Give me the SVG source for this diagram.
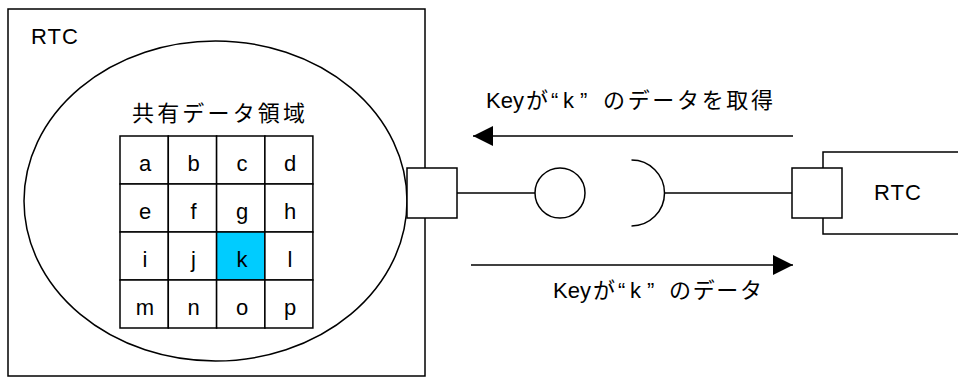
<svg xmlns="http://www.w3.org/2000/svg" width="958" height="377" viewBox="0 0 958 377">
  <style>
    .ln { fill: none; stroke: #000; stroke-width: 1.5; }
    .box { fill: #fff; stroke: #000; stroke-width: 1.5; }
    .cell { fill: #fff; stroke: #000; stroke-width: 1.5; }
    .hit { fill: #00CCFF; stroke: #000; stroke-width: 1.5; }
    .t { font-family: "Liberation Sans", "Noto Sans CJK JP", sans-serif; font-size: 22px; fill: #000; }
    .c { text-anchor: middle; }
  </style>
  <defs>
    <marker id="arrow" viewBox="0 0 20 20" refX="20" refY="10" markerWidth="20" markerHeight="20" markerUnits="userSpaceOnUse" orient="auto">
      <path d="M0,0 L20,10 L0,20 Z" fill="#000"/>
    </marker>
  </defs>

  <!-- provider component with shared data area -->
  <g id="rtc-left">
    <rect class="box" x="8" y="9" width="417" height="367"/>
    <text class="t" x="31" y="44" textLength="47">RTC</text>
    <ellipse class="ln" cx="215.5" cy="201" rx="191.5" ry="160"/>
  </g>

  <g id="shared-data">
    <text class="t" x="132" y="121" textLength="173">共有データ領域</text>
    <g id="cells">
      <rect class="cell" x="120" y="136" width="48.3" height="48"/>
      <rect class="cell" x="168.3" y="136" width="48.3" height="48"/>
      <rect class="cell" x="216.6" y="136" width="48.3" height="48"/>
      <rect class="cell" x="264.9" y="136" width="48" height="48"/>
      <rect class="cell" x="120" y="184" width="48.3" height="48"/>
      <rect class="cell" x="168.3" y="184" width="48.3" height="48"/>
      <rect class="cell" x="216.6" y="184" width="48.3" height="48"/>
      <rect class="cell" x="264.9" y="184" width="48" height="48"/>
      <rect class="cell" x="120" y="232" width="48.3" height="48"/>
      <rect class="cell" x="168.3" y="232" width="48.3" height="48"/>
      <rect class="hit" x="216.6" y="232" width="48.3" height="48"/>
      <rect class="cell" x="264.9" y="232" width="48" height="48"/>
      <rect class="cell" x="120" y="280" width="48.3" height="48"/>
      <rect class="cell" x="168.3" y="280" width="48.3" height="48"/>
      <rect class="cell" x="216.6" y="280" width="48.3" height="48"/>
      <rect class="cell" x="264.9" y="280" width="48" height="48"/>
    </g>
    <g class="t c">
      <text x="145" y="170.5">a</text><text x="193.5" y="170.5">b</text><text x="242" y="170.5">c</text><text x="290" y="170.5">d</text>
      <text x="145" y="218.5">e</text><text x="193.5" y="218.5">f</text><text x="242" y="218.5">g</text><text x="290" y="218.5">h</text>
      <text x="145" y="266.5">i</text><text x="193.5" y="266.5">j</text><text x="242" y="266.5">k</text><text x="290" y="266.5">l</text>
      <text x="145" y="314.5">m</text><text x="193.5" y="314.5">n</text><text x="242" y="314.5">o</text><text x="290" y="314.5">p</text>
    </g>
  </g>

  <g id="port-left">
    <rect class="box" x="407" y="168" width="50" height="50"/>
  </g>

  <!-- consumer component, clipped at the right edge -->
  <g id="rtc-right">
    <rect class="box" x="823" y="152" width="200" height="82"/>
    <text class="t" x="874" y="200" textLength="47">RTC</text>
  </g>

  <g id="port-right">
    <rect class="box" x="792" y="168" width="50" height="50"/>
  </g>

  <g id="connectors">
    <!-- provided interface (lollipop) -->
    <line class="ln" x1="457" y1="193" x2="535" y2="193"/>
    <circle id="provided" class="ln" cx="560" cy="193" r="25"/>
    <!-- required interface (socket) -->
    <path id="required" class="ln" d="M631.5,160 A33,33 0 0 1 631.5,226"/>
    <line class="ln" x1="664.5" y1="193" x2="792" y2="193"/>
    <!-- request / response arrows -->
    <line class="ln" x1="793" y1="136" x2="473" y2="136" marker-end="url(#arrow)"/>
    <line class="ln" x1="471" y1="265" x2="793" y2="265" marker-end="url(#arrow)"/>
  </g>

  <g id="labels">
    <text class="t" x="486" y="108">Key<tspan x="526">が</tspan><tspan x="551">“</tspan><tspan x="563">k</tspan><tspan x="580">” </tspan><tspan x="603" textLength="170">のデータを取得</tspan></text>
    <text class="t" x="553" y="298">Key<tspan x="593">が</tspan><tspan x="618">“</tspan><tspan x="630">k</tspan><tspan x="647">” </tspan><tspan x="669" textLength="93">のデータ</tspan></text>
  </g>
</svg>
